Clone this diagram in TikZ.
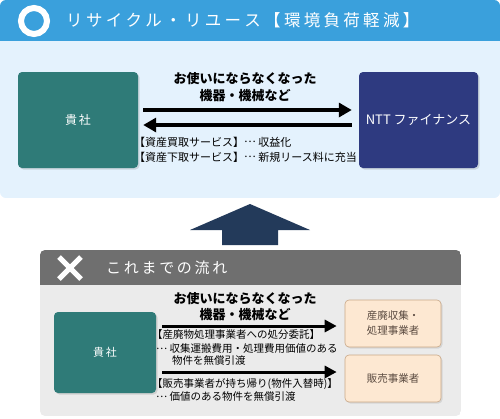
\documentclass[tikz,border=0pt]{standalone}
\usepackage{fontspec}
\setmainfont{Noto Sans CJK JP}
\newfontfamily\subtitlefont[LetterSpace=18]{Noto Sans CJK JP}
\newcommand{\jdots}{\raisebox{0.3em}{…}}
\newcommand{\tk}{\kern3.3pt}
\usetikzlibrary{arrows.meta,shadows}
\definecolor{hdrblue}{HTML}{3AA0DC}
\definecolor{bglight}{HTML}{E4F2FD}
\definecolor{teal}{HTML}{2F7B78}
\definecolor{navy}{HTML}{2E3A80}
\definecolor{bigarrow}{HTML}{233A5A}
\definecolor{hdrgray}{HTML}{6F6F6F}
\definecolor{bggray}{HTML}{EBEBEB}
\definecolor{peach}{HTML}{FDE8D2}
\definecolor{peachline}{HTML}{C9A887}
\definecolor{browntext}{HTML}{5A4A40}
\tikzset{
  mainbox/.style={rounded corners=4pt, inner sep=0pt, text=white,
    drop shadow={opacity=0.25, shadow xshift=1.5pt, shadow yshift=-1.5pt}},
  peachbox/.style={rounded corners=4pt, inner sep=0pt, fill=peach, draw=peachline,
    line width=0.6pt, text=browntext, font=\fontsize{10.5}{15}\selectfont, align=center,
    drop shadow={opacity=0.2, shadow xshift=1.5pt, shadow yshift=-1.5pt},
    minimum width=96pt},
  thickarrow/.style={line width=3.5pt, -{Triangle[length=13pt,width=14pt]}},
  thinarrow/.style={line width=3pt, -{Triangle[length=12pt,width=12pt]}},
  headtext/.style={font=\bfseries\fontsize{13}{15}\selectfont, inner sep=0pt},
  smalltext/.style={font=\fontsize{11}{13}\selectfont, inner sep=0pt, anchor=west},
  smallertext/.style={font=\fontsize{10.5}{12}\selectfont, inner sep=0pt, anchor=west},
}
\begin{document}
\begin{tikzpicture}[x=1pt,y=1pt]
\useasboundingbox (0,0) rectangle (500,-418);
% ---------- top panel ----------
\begin{scope}
  \clip[rounded corners=6pt] (0,0) rectangle (500,-198);
  \fill[bglight] (0,0) rectangle (500,-198);
  \fill[hdrblue] (0,0) rectangle (500,-41);
\end{scope}
\draw[white, line width=6pt] (34,-21) circle (13);
\node[anchor=west, inner sep=0pt, text=white, font=\fontsize{16.5}{18}\selectfont] (title1) at (66,-20) {リ\tk サ\tk イ\tk ク\tk ル\tk ・\tk リ\tk ユ\tk ー\tk ス\tk 【\tk 環\tk 境\tk 負\tk 荷\tk 軽\tk 減\tk 】};

\node[mainbox, fill=teal, minimum width=120pt, minimum height=96pt, font=\fontsize{12}{14}\selectfont] (ki) at (78,-120) {貴\,社};
\node[mainbox, fill=navy, minimum width=119pt, minimum height=96pt, font=\fontsize{13}{15}\selectfont] (ntt) at (418.5,-120) {NTT ファイナンス};

\draw[thickarrow, shorten <=5pt, shorten >=7pt] ([yshift=10pt]ki.east) -- ([yshift=10pt]ntt.west);
\draw[thickarrow, shorten <=7pt, shorten >=5pt] ([yshift=-5pt]ntt.west) -- ([yshift=-5pt]ki.east);

\node[headtext] (t1a) at (245,-79) {お使いにならなくなった};
\node[headtext] (t1b) at (245,-96) {機器・機械など};
\node[smalltext] (s1a) at (134,-142) {【資産買取サービス】\jdots\ 収益化};
\node[smalltext] (s1b) at (134,-157) {【資産下取サービス】\jdots\ 新規リース料に充当};

% ---------- big arrow ----------
\fill[bigarrow] (250,-204) -- (310,-230) -- (278,-230) -- (278,-245) -- (222,-245) -- (222,-230) -- (190,-230) -- cycle;

% ---------- bottom panel ----------
\begin{scope}
  \clip[rounded corners=5pt] (40,-250) rectangle (461,-416);
  \fill[bggray] (40,-250) rectangle (461,-416);
  \fill[hdrgray] (40,-250) rectangle (461,-285);
\end{scope}
\draw[white, line width=5pt] (59,-257) -- (81,-279) (81,-257) -- (59,-279);
\node[anchor=west, inner sep=0pt, text=white, font=\subtitlefont\fontsize{15}{17}\selectfont] (title2) at (106,-268) {これまでの流れ};

\node[mainbox, fill=teal, minimum width=102pt, minimum height=81pt, font=\fontsize{11}{13}\selectfont] (ki2) at (105,-352.5) {貴\,社};
\node[peachbox, minimum height=47pt] (b1) at (393,-323.5) {産廃収集・\\処理事業者};
\node[peachbox, minimum height=47pt] (b2) at (393,-378.5) {販売事業者};

\draw[thinarrow, shorten <=6pt, shorten >=8pt] ([yshift=26.5pt]ki2.east) -- ([yshift=-2.5pt]b1.west);
\draw[thinarrow, shorten <=6pt, shorten >=8pt] ([yshift=-19.5pt]ki2.east) -- ([yshift=6.5pt]b2.west);

\node[headtext] (t2a) at (245,-299) {お使いにならなくなった};
\node[headtext] (t2b) at (245,-315) {機器・機械など};
\node[smallertext] (s2a) at (152,-335) {【産廃物処理事業者への処分委託】};
\node[smallertext] (s2b) at (156,-349) {\jdots\ 収集運搬費用・処理費用価値のある};
\node[smallertext] (s2c) at (172,-361) {物件を無償引渡};
\node[smallertext] (s2d) at (152,-384) {【販売事業者が持ち帰り(物件入替時)】};
\node[smallertext] (s2e) at (156,-397) {\jdots\ 価値のある物件を無償引渡};
\end{tikzpicture}
\end{document}
